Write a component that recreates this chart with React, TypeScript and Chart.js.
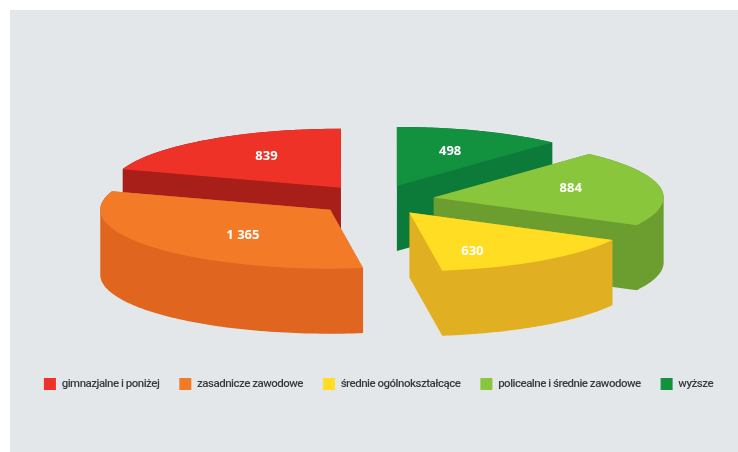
import React, { useEffect, useRef } from "react";
import { Chart, registerables } from "chart.js";

Chart.register(...registerables);

// Clockwise from 12 o'clock; the legend shows them reversed.
const categories = [
  "wyższe",
  "policealne i średnie zawodowe",
  "średnie ogólnokształcące",
  "zasadnicze zawodowe",
  "gimnazjalne i poniżej",
];
const values = [498, 884, 630, 1365, 839];
const topColors = ["#12913F", "#8AC63B", "#FFDD22", "#F37A26", "#EE3228"];
const sideColors = ["#0C7A39", "#6B9E2F", "#E0AF22", "#E0651F", "#A81E18"];
const drawOrder = [0, 1, 2, 4, 3];

const CENTER_X = 375.5;
const CENTER_Y = 200;
const SQUASH = 59 / 230;
const EXPLODE = 59;
const DEPTH = 65;
const LABEL_RADIUS = 0.62;
const labelNudge = [
  [1.5, -1],
  [-3.5, -2.5],
  [-19, 9],
  [22, 2],
  [9, -2],
];
const LEGEND_TRACKING = "-0.5px";
const LEGEND_SHIFT = 9.5;

function convexHull(points: number[][]) {
  const pts = [...points].sort((a, b) => a[0] - b[0] || a[1] - b[1]);
  const cross = (o: number[], a: number[], b: number[]) =>
    (a[0] - o[0]) * (b[1] - o[1]) - (a[1] - o[1]) * (b[0] - o[0]);
  const half = (list: number[][]) => {
    const out: number[][] = [];
    list.forEach((p) => {
      while (out.length >= 2 && cross(out[out.length - 2], out[out.length - 1], p) <= 0) out.pop();
      out.push(p);
    });
    out.pop();
    return out;
  };
  return [...half(pts), ...half([...pts].reverse())];
}

const pie3d = {
  id: "pie3d",
  beforeUpdate(chart: any) {
    chart.ctx.letterSpacing = LEGEND_TRACKING;
  },
  afterLayout(chart: any) {
    chart.legend.left += LEGEND_SHIFT;
    chart.legend.right += LEGEND_SHIFT;
  },
  beforeDraw(chart: any) {
    const { ctx, width, height } = chart;
    ctx.letterSpacing = LEGEND_TRACKING;
    ctx.save();
    ctx.fillStyle = "#FFFFFF";
    ctx.fillRect(0, 0, width, height);
    ctx.fillStyle = "#E4E7E9";
    ctx.fillRect(10, 10, width - 10, height - 10);
    ctx.restore();
  },
  beforeDatasetsDraw(chart: any) {
    const { ctx } = chart;
    const arcs = chart.getDatasetMeta(0).data;
    drawOrder.forEach((i) => {
      const arc = arcs[i];
      const mid = (arc.startAngle + arc.endAngle) / 2;
      const ox = CENTER_X + Math.cos(mid) * EXPLODE;
      const oy = CENTER_Y + Math.sin(mid) * EXPLODE * SQUASH;
      // Side walls: the swept outline of the slice, filled once.
      const rim: number[][] = [[ox, oy]];
      const steps = 90;
      for (let s = 0; s <= steps; s++) {
        const a = arc.startAngle + ((arc.endAngle - arc.startAngle) * s) / steps;
        rim.push([ox + Math.cos(a) * arc.outerRadius, oy + Math.sin(a) * arc.outerRadius * SQUASH]);
      }
      const hull = convexHull([...rim, ...rim.map((p) => [p[0], p[1] + DEPTH])]);
      ctx.save();
      ctx.fillStyle = sideColors[i];
      ctx.beginPath();
      hull.forEach((p, k) => (k ? ctx.lineTo(p[0], p[1]) : ctx.moveTo(p[0], p[1])));
      ctx.closePath();
      ctx.fill();
      ctx.restore();
      // Top face: the library's own arc element, squashed and moved out.
      ctx.save();
      ctx.translate(ox, oy);
      ctx.scale(1, SQUASH);
      ctx.translate(-arc.x, -arc.y);
      arc.draw(ctx);
      ctx.restore();
    });
    return false;
  },
  afterDraw(chart: any) {
    const { ctx } = chart;
    const arcs = chart.getDatasetMeta(0).data;
    ctx.save();
    ctx.letterSpacing = "0px";
    ctx.font = "700 13px 'Open Sans'";
    ctx.fillStyle = "#FFFFFF";
    ctx.textAlign = "center";
    ctx.textBaseline = "middle";
    arcs.forEach((arc: any, i: number) => {
      const mid = (arc.startAngle + arc.endAngle) / 2;
      const r = EXPLODE + arc.outerRadius * LABEL_RADIUS;
      const x = CENTER_X + Math.cos(mid) * r + labelNudge[i][0];
      const y = CENTER_Y + Math.sin(mid) * r * SQUASH + labelNudge[i][1];
      ctx.fillText(String(values[i]).replace(/\B(?=(\d{3})+$)/g, " "), x, y);
    });
    ctx.restore();
  },
};

export default function App() {
  const ref = useRef<HTMLCanvasElement>(null);
  useEffect(() => {
    const chart = new Chart(ref.current as HTMLCanvasElement, {
      type: "pie",
      data: {
        labels: categories,
        datasets: [
          {
            data: values,
            backgroundColor: topColors,
            borderWidth: 0,
            radius: 230,
          },
        ],
      },
      options: {
        animation: false,
        responsive: false,
        layout: { padding: { bottom: 52 } },
        plugins: {
          tooltip: { enabled: false },
          legend: {
            position: "bottom",
            reverse: true,
            labels: {
              boxWidth: 12,
              boxHeight: 12,
              padding: 20,
              color: "#3A3A3C",
              font: { family: "Roboto", size: 11.5, weight: "500" },
            },
          },
        },
      },
      plugins: [pie3d],
    } as any);
    return () => chart.destroy();
  }, []);
  return (
    <div style={{ position: "absolute", left: 0, top: 0, width: 738, height: 452 }}>
      <canvas ref={ref} width={738} height={452} style={{ display: "block" }} />
    </div>
  );
}
